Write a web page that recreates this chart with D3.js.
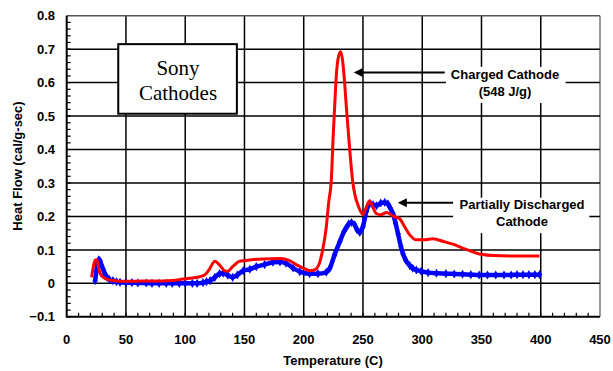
<!DOCTYPE html>
<meta charset="utf-8">
<style>
body { margin: 0; background: #fff; }
text { font-family: "Liberation Sans", Arial, sans-serif; font-weight: bold; fill: #000; }
.serif { font-family: "Liberation Serif", "Times New Roman", serif; font-weight: normal; }
</style>
<svg width="613" height="371"></svg>
<script src="https://d3js.org/d3.v7.min.js"></script>
<script>

// Charged cathode (red)
var chargedT = [21,22.5,24,25.5,27,28.5,31,34,40,50,70,85,95,101,110,116,120,125,129,133,136,140,146,155,165,180,188,194,200,205,209,213,216,219,221,223.4,224.6,226,227.6,229.5,231.3,233,234.5,236,238.9,241.5,243.5,245.7,248,250,252,255.7,258,261.4,265,270,276,281,285,289.5,295,302,309,318,326,333,340,346,351,360,375,390,399]
var chargedV = [0.018,0.05,0.07,0.07,0.045,0.028,0.018,0.012,0.008,0.006,0.007,0.008,0.011,0.014,0.018,0.024,0.04,0.066,0.055,0.038,0.036,0.05,0.066,0.07,0.073,0.074,0.068,0.055,0.045,0.038,0.04,0.058,0.1,0.167,0.24,0.316,0.42,0.52,0.626,0.68,0.692,0.66,0.6,0.525,0.396,0.3,0.26,0.235,0.215,0.205,0.22,0.247,0.23,0.208,0.205,0.212,0.2,0.193,0.17,0.145,0.13,0.13,0.133,0.125,0.117,0.107,0.098,0.09,0.086,0.083,0.082,0.082,0.082]

// Partially discharged cathode (blue)
var partialT = [24,25,26,27,28,29.5,31,32.3,34,36,39,42,45,50,55,60,67,72,78,84,89,95,100,106,110,115,118,121,125,129,132,136,140,144,149,154.5,160,167,174,180,185,191,196.7,205,212,219,222,226,230.5,234,236,238,240.3,243,245,247.3,250,253,255.7,258.5,261.4,265,268.4,271,273,275.4,277.5,279.6,282,283.8,286,289.5,292,295,299,305,312,320,327,334,341,348,355,362,369,375,380,385,390,395,399]
var partialV = [0.008,0.035,0.063,0.07,0.068,0.053,0.04,0.028,0.018,0.012,0.008,0.005,0.003,0.002,0.002,0.001,0.001,0,0,0,0,0,0,0,0,0.002,0.005,0.008,0.018,0.029,0.03,0.024,0.018,0.025,0.038,0.042,0.05,0.056,0.063,0.064,0.06,0.046,0.035,0.029,0.029,0.033,0.045,0.085,0.125,0.155,0.167,0.178,0.182,0.175,0.16,0.152,0.17,0.217,0.238,0.235,0.232,0.24,0.242,0.238,0.225,0.207,0.18,0.148,0.11,0.088,0.07,0.053,0.045,0.04,0.036,0.032,0.03,0.029,0.028,0.027,0.026,0.025,0.025,0.025,0.025,0.025,0.026,0.026,0.026,0.026,0.026]

var xTicks = [0,50,100,150,200,250,300,350,400,450]
var yTicks = [-0.1,0,0.1,0.2,0.3,0.4,0.5,0.6,0.7,0.8]

var svg = d3.select('svg')
var x = d3.scaleLinear().domain([0,450]).range([66.7,600])
var y = d3.scaleLinear().domain([-0.1,0.8]).range([316.8,15.7])

// grid
svg.append('g').selectAll('line').data(xTicks.slice(1)).enter().append('line')
  .attr('x1',function(d){return x(d)}).attr('x2',function(d){return x(d)})
  .attr('y1',y(0.8)).attr('y2',y(-0.1))
  .attr('stroke',function(d){return d==450?'#999':'#000'}).attr('stroke-width',function(d){return d==450?2:1.5})
svg.append('g').selectAll('line').data(yTicks.slice(1)).enter().append('line')
  .attr('x1',x(0)).attr('x2',x(450))
  .attr('y1',function(d){return y(d)}).attr('y2',function(d){return y(d)})
  .attr('stroke',function(d){return d==0.8?'#555':'#000'}).attr('stroke-width',1.5)

// minor ticks
svg.append('g').selectAll('line').data(d3.range(-0.1,0.8,0.02)).enter().append('line')
  .attr('x1',x(0)).attr('x2',x(0)+4)
  .attr('y1',function(d){return y(d)}).attr('y2',function(d){return y(d)})
  .attr('stroke','#000').attr('stroke-width',1.2)
svg.append('g').selectAll('line').data(d3.range(10,450,10)).enter().append('line')
  .attr('x1',function(d){return x(d)}).attr('x2',function(d){return x(d)})
  .attr('y1',y(-0.1)).attr('y2',y(-0.1)-4)
  .attr('stroke','#000').attr('stroke-width',1.2)

// axes lines
svg.append('line').attr('x1',x(0)).attr('x2',x(0)).attr('y1',y(0.8)).attr('y2',y(-0.1)+1).attr('stroke','#000').attr('stroke-width',2)
svg.append('line').attr('x1',x(0)).attr('x2',x(450)).attr('y1',y(-0.1)).attr('y2',y(-0.1)).attr('stroke','#000').attr('stroke-width',2)

// tick labels
svg.append('g').selectAll('text').data(yTicks).enter().append('text')
  .attr('x',55).attr('y',function(d){return y(d)}).attr('dy','0.36em')
  .attr('text-anchor','end').style('font-size','13px')
  .text(function(d){return d==0?'0':d3.format('.1f')(d)})
svg.append('g').selectAll('text').data(xTicks).enter().append('text')
  .attr('x',function(d){return x(d)}).attr('y',344)
  .attr('text-anchor','middle').style('font-size','13px')
  .text(function(d){return d})

svg.append('text').attr('x',333).attr('y',365).attr('text-anchor','middle').style('font-size','13px').text('Temperature (C)')
svg.append('text').attr('transform','translate(22,166) rotate(-90)').attr('text-anchor','middle').style('font-size','13px').text('Heat Flow (cal/g-sec)')

// series
var red = chargedT.map(function(t,i){return [t,chargedV[i]]})
var blue = partialT.map(function(t,i){return [t,partialV[i]]})
var line = d3.line().x(function(d){return x(d[0])}).y(function(d){return y(d[1])}).curve(d3.curveMonotoneX)

svg.append('path').datum(blue).attr('d',line).attr('fill','none').attr('stroke','#0000ff').attr('stroke-width',4.5)
svg.append('g').selectAll('path').data(blue).enter().append('path')
  .attr('transform',function(d){return 'translate('+x(d[0])+','+y(d[1])+')'})
  .attr('d',d3.symbol().type(d3.symbolDiamond).size(24)).attr('fill','#0000ff')
svg.append('path').datum(red).attr('d',line).attr('fill','none').attr('stroke','#ff0000').attr('stroke-width',3)

// Sony box
svg.append('rect').attr('x',x(43.5)).attr('y',y(0.715)).attr('width',x(143.6)-x(43.5)).attr('height',y(0.507)-y(0.715))
  .attr('fill','#fff').attr('stroke','#000').attr('stroke-width',2)
svg.append('text').attr('class','serif').attr('x',178).attr('y',75).attr('text-anchor','middle').style('font-size','21px').text('Sony')
svg.append('text').attr('class','serif').attr('x',178).attr('y',100).attr('text-anchor','middle').style('font-size','21px').text('Cathodes')

// annotations
function note(tip, tail, box, lines, cx, y0){
  svg.append('rect').attr('x',x(box[0])).attr('y',y(box[1])).attr('width',x(box[2])-x(box[0])).attr('height',y(box[3])-y(box[1])).attr('fill','#fff')
  svg.append('line').attr('x1',x(tail)).attr('x2',x(tip[0])+8).attr('y1',y(tip[1])).attr('y2',y(tip[1])).attr('stroke','#000').attr('stroke-width',2)
  var tx = x(tip[0]), ty = y(tip[1])
  svg.append('path').attr('d','M'+tx+','+ty+'L'+(tx+9)+','+(ty-4.5)+'L'+(tx+9)+','+(ty+4.5)+'Z').attr('fill','#000')
  lines.forEach(function(l,i){
    svg.append('text').attr('x',cx).attr('y',y0+i*17).attr('text-anchor','middle').style('font-size','13px').text(l)
  })
}
note([242.2,0.63],319,[320,0.647,421,0.539],['Charged Cathode','(548 J/g)'],505,79)
note([279.4,0.241],326,[326,0.256,441,0.15],['Partially Discharged','Cathode'],522,209)

</script>
